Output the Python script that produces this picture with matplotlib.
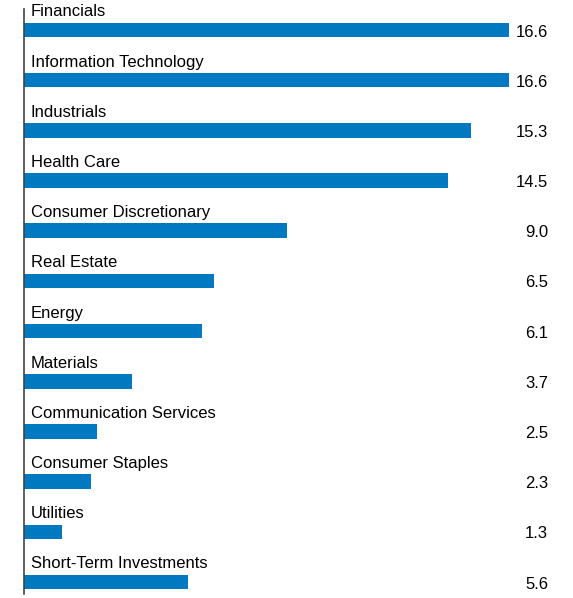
import matplotlib.pyplot as plt
import matplotlib.transforms as mtransforms

plt.rcParams['font.family'] = ['Liberation Sans', 'DejaVu Sans']

sectors = ['Financials', 'Information Technology', 'Industrials', 'Health Care',
           'Consumer Discretionary', 'Real Estate', 'Energy', 'Materials',
           'Communication Services', 'Consumer Staples', 'Utilities',
           'Short-Term Investments']
values = [16.6, 16.6, 15.3, 14.5, 9.0, 6.5, 6.1, 3.7, 2.5, 2.3, 1.3, 5.6]

W, H = 573, 598
fig = plt.figure(figsize=(W / 100, H / 100), dpi=100)
# axes box in pixels: left 24, right 573, top 9, bottom 594
ax = fig.add_axes([24 / W, 4 / H, 549 / W, 585 / H])

pos = list(range(len(sectors)))
ax.barh(pos, values, height=0.29, color='#0079C1', left=0)

ax.set_xlim(0, 549 / 29.22)
ax.set_ylim(11 + 12 / 50.18, -21 / 50.18)

trans = mtransforms.blended_transform_factory(ax.transAxes, ax.transData)
for i, (name, v) in enumerate(zip(sectors, values)):
    ax.text(7 / 549, i - 0.36, name, transform=trans, ha='left', va='center',
            fontsize=12, color='#000000')
    ax.text(524 / 549, i + 0.04, f'{v:.1f}', transform=trans, ha='right',
            va='center', fontsize=12, color='#000000')

for s in ['top', 'right', 'bottom']:
    ax.spines[s].set_visible(False)
ax.spines['left'].set_color('#444444')
ax.spines['left'].set_linewidth(1.2)
ax.set_xticks([])
ax.set_yticks([])

fig.savefig('out.png', dpi=100)
